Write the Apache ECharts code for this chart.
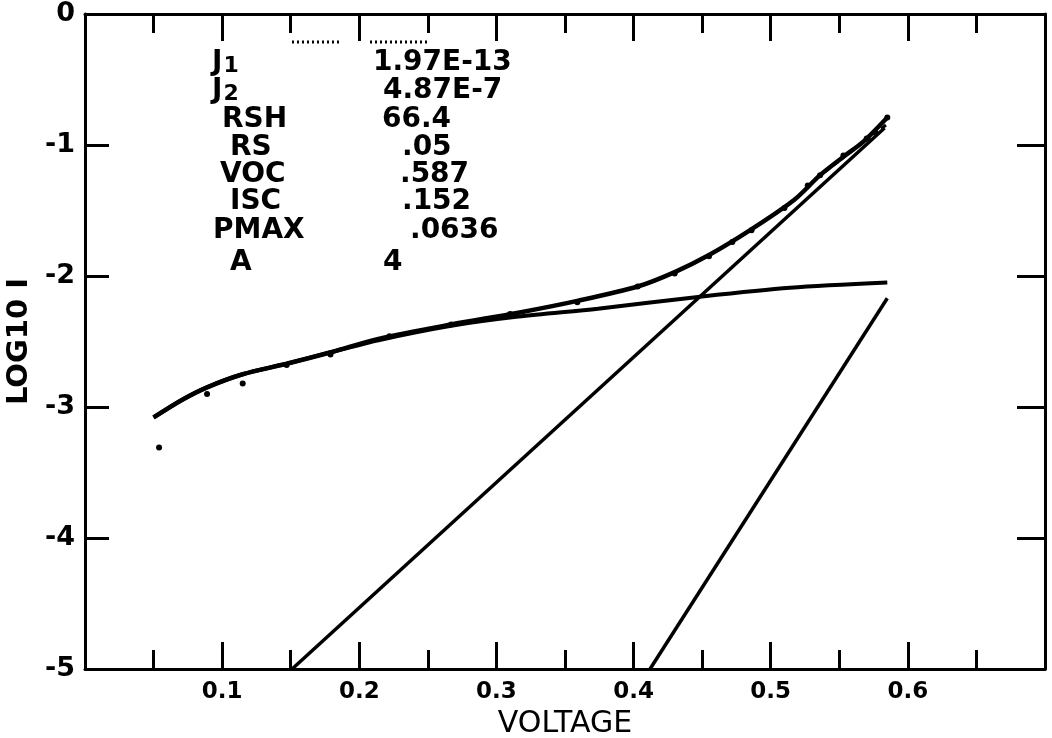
<!DOCTYPE html>
<html>
<head>
<meta charset="utf-8">
<script src="https://cdn.jsdelivr.net/npm/echarts@6/dist/echarts.min.js"></script>
<style>
html,body{margin:0;padding:0;background:#fff;}
#chart{width:1052px;height:738px;}
</style>
</head>
<body>
<div id="chart"></div>
<script>
// ---- data ----
const xTicks = [0.1, 0.2, 0.3, 0.4, 0.5, 0.6];
const yTicks = [0, -1, -2, -3, -4, -5];

// full fitted curve (log10 I vs voltage)
const fitX = [0.05, 0.07, 0.089, 0.115, 0.147, 0.18, 0.214, 0.267, 0.316, 0.359, 0.403, 0.43, 0.455, 0.485, 0.517, 0.536, 0.553, 0.568, 0.585];
const fitY = [-3.08, -2.95, -2.85, -2.75, -2.67, -2.58, -2.48, -2.37, -2.28, -2.19, -2.08, -1.97, -1.84, -1.65, -1.42, -1.23, -1.09, -0.97, -0.79];

// J2 + shunt component (flattening curve)
const shX = [0.05, 0.07, 0.089, 0.115, 0.147, 0.18, 0.214, 0.267, 0.316, 0.374, 0.447, 0.514, 0.585];
const shY = [-3.08, -2.95, -2.85, -2.75, -2.67, -2.58, -2.49, -2.38, -2.31, -2.25, -2.16, -2.09, -2.05];

// J2 diode line (A = 4)
const j2X = [0.151, 0.583];
const j2Y = [-5, -0.87];

// J1 diode line
const j1X = [0.412, 0.585];
const j1Y = [-5, -2.17];

// short dashed segment near the top end
const dashX = [0.54, 0.585];
const dashY = [-1.20, -0.84];

// measured points
const ptX = [0.054, 0.089, 0.115, 0.147, 0.179, 0.222, 0.267, 0.31, 0.359, 0.403, 0.43, 0.455, 0.472, 0.486, 0.51, 0.527, 0.536, 0.553, 0.57, 0.585];
const ptY = [-3.31, -2.90, -2.82, -2.68, -2.60, -2.46, -2.37, -2.29, -2.20, -2.08, -1.98, -1.85, -1.74, -1.65, -1.48, -1.31, -1.23, -1.08, -0.95, -0.79];

// parameter table
const paramNames = ['J1', 'J2', 'RSH', 'RS', 'VOC', 'ISC', 'PMAX', 'A'];
const paramValues = ['1.97E-13', '4.87E-7', '66.4', '.05', '.587', '.152', '.0636', '4'];

// ---- layout ----
const nameLeft = [212, 212, 222, 230, 220, 230, 213, 230];
const valueLeft = [373, 383, 382, 402, 400, 402, 410, 383];
const rowY = [65, 93, 122, 150, 177, 204, 233, 265];

const zip = (xs, ys) => xs.map((x, i) => [x, ys[i]]);
const FONT = 'DejaVu Sans';

const chart = echarts.init(document.getElementById('chart'));

const tickStyle = {color: '#000', width: 3};
function xAx(pos, showLabel) {
  return {
    type: 'value', position: pos, min: 0, max: 0.7, interval: 0.1,
    axisLine: {show: true, onZero: false, lineStyle: {color: '#000', width: 3}},
    axisTick: {show: true, inside: true, length: 27, lineStyle: tickStyle},
    minorTick: {show: true, splitNumber: 2, length: 19, lineStyle: tickStyle},
    splitLine: {show: false}, minorSplitLine: {show: false},
    axisLabel: {
      show: showLabel, showMinLabel: false, showMaxLabel: false,
      color: '#000', fontFamily: FONT, fontWeight: 'bold', fontSize: 23, margin: 12,
      formatter: v => { const t = xTicks.find(t => Math.abs(t - v) < 1e-9); return t === undefined ? '' : String(t); }
    },
    name: showLabel ? 'VOLTAGE' : '', nameLocation: 'middle', nameGap: 38,
    nameTextStyle: {color: '#000', fontFamily: FONT, fontSize: 30}
  };
}
function yAx(pos, showLabel, len) {
  return {
    type: 'value', position: pos, min: -5, max: 0, interval: 1,
    axisLine: {show: true, onZero: false, lineStyle: {color: '#000', width: 3}},
    axisTick: {show: true, inside: true, length: len, lineStyle: tickStyle},
    splitLine: {show: false},
    axisLabel: {
      show: showLabel, color: '#000', fontFamily: FONT, fontWeight: 'bold', fontSize: 27, margin: 10,
      formatter: v => (yTicks.indexOf(Math.round(v)) >= 0 ? String(Math.round(v)) : '')
    },
    name: showLabel ? 'LOG10 I' : '', nameLocation: 'middle', nameGap: 50, nameRotate: 90,
    nameTextStyle: {color: '#000', fontFamily: FONT, fontWeight: 'bold', fontSize: 29}
  };
}

const lineSeries = (name, data, width, type) => ({
  name, type: 'line', data, xAxisIndex: 0, yAxisIndex: 0,
  showSymbol: false, smooth: type === 'smooth' ? 0.3 : false,
  lineStyle: {color: '#000', width, type: type === 'dashed' ? [6, 4] : 'solid', opacity: 1},
  z: 3
});

const graphics = [];
paramNames.forEach((n, i) => {
  const m = n.match(/^J(\d)$/);
  graphics.push({
    type: 'text', left: nameLeft[i], top: rowY[i] - 16,
    style: m ? {
      text: '{a|J}{s|' + m[1] + '}',
      rich: {
        a: {fontFamily: FONT, fontWeight: 'bold', fontSize: 28, fill: '#000', lineHeight: 32, verticalAlign: 'bottom'},
        s: {fontFamily: FONT, fontWeight: 'bold', fontSize: 22, fill: '#000', lineHeight: 26, verticalAlign: 'bottom', padding: [0, 0, 0, 1]}
      }
    } : {text: n, fontFamily: FONT, fontWeight: 'bold', fontSize: 28, fill: '#000'}
  });
  graphics.push({
    type: 'text', left: valueLeft[i], top: rowY[i] - 16,
    style: {text: paramValues[i], fontFamily: FONT, fontWeight: 'bold', fontSize: 28, fill: '#000'}
  });
});
// dotted marks under the top axis (as in the scan)
graphics.push({type: 'line', shape: {x1: 292, y1: 42, x2: 340, y2: 42}, style: {stroke: '#000', lineWidth: 3, lineDash: [2, 3]}});
graphics.push({type: 'line', shape: {x1: 370, y1: 42, x2: 427, y2: 42}, style: {stroke: '#000', lineWidth: 3, lineDash: [2, 3]}});

chart.setOption({
  animation: false,
  backgroundColor: '#fff',
  grid: {left: 85, right: 7, top: 14, bottom: 69, containLabel: false, outerBoundsMode: 'none'},
  xAxis: [xAx('bottom', true), xAx('top', false)],
  yAxis: [yAx('left', true, 24), yAx('right', false, 28)],
  series: [
    lineSeries('fit', zip(fitX, fitY), 4.5, 'smooth'),
    lineSeries('shunt', zip(shX, shY), 4, 'smooth'),
    lineSeries('j2', zip(j2X, j2Y), 3.5, 'solid'),
    lineSeries('j1', zip(j1X, j1Y), 3.5, 'solid'),
    lineSeries('dash', zip(dashX, dashY), 3, 'dashed'),
    {
      name: 'points', type: 'scatter', data: zip(ptX, ptY), xAxisIndex: 0, yAxisIndex: 0,
      symbol: 'circle', symbolSize: 6, itemStyle: {color: '#000', opacity: 1}, z: 4
    }
  ],
  graphic: graphics
});
</script>
</body>
</html>
